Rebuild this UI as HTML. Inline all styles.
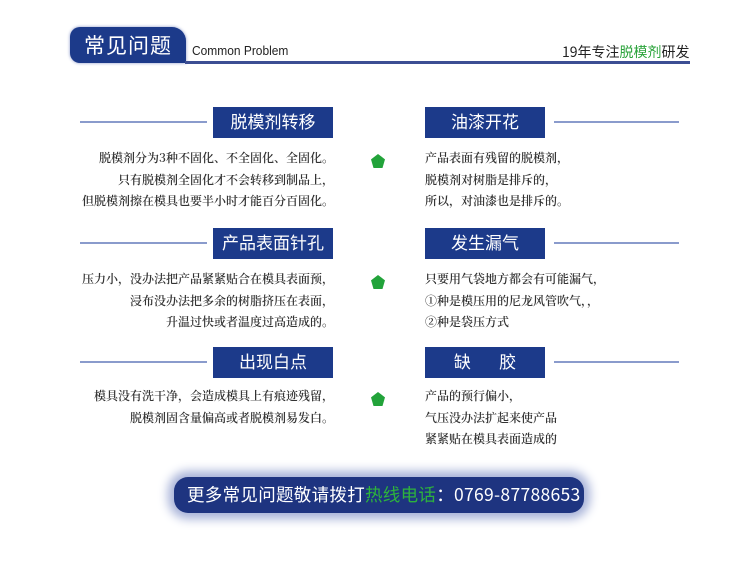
<!DOCTYPE html>
<html><head><meta charset="utf-8"><style>
*{margin:0;padding:0;box-sizing:border-box}
body{width:749px;height:567px;background:#fff;position:relative;overflow:hidden;font-family:"Liberation Sans","Noto Sans CJK SC",sans-serif}
.a{position:absolute}
.box{position:absolute;width:120px;height:31px;background:#1c3a8a;color:#fff;font-size:17px;text-align:center;line-height:31px}
.ln{position:absolute;height:2px;background:#8a9bcc}
.t{position:absolute;font-family:"Noto Serif CJK SC","Liberation Serif",serif;font-size:12px;color:#333;line-height:21.5px;font-weight:600;white-space:nowrap}
.tl{text-align:right;right:415px}
.tr{left:425px}
.pent{position:absolute;width:14px;height:14px;background:#22a33a;clip-path:polygon(50% 0,100% 38%,82% 100%,18% 100%,0 38%)}
</style></head><body>
<div class="a" style="left:70px;top:27px;width:116px;height:36px;background:#1c3a8a;border-radius:10px 14px 0 10px;box-shadow:0 0 3px #8896c8"></div>
<div class="a" style="left:84px;top:30px;color:#fff;font-size:21px;line-height:30px;font-family:'Noto Sans CJK SC',sans-serif;letter-spacing:1px">常见问题</div>
<div class="a" style="left:192px;top:43px;font-size:13px;color:#222;transform:scaleX(0.92);transform-origin:left">Common Problem</div>
<div class="a" style="left:185px;top:61px;width:505px;height:3px;background:#3c4e93"></div>
<div class="a" style="left:562px;top:43px;font-size:14px;color:#222;font-family:'Noto Sans CJK SC',sans-serif;line-height:18px">19年专注<span style="color:#2aa33a">脱模剂</span>研发</div>

<div class="ln" style="left:80px;top:121px;width:127px"></div>
<div class="box" style="left:213px;top:107px">脱模剂转移</div>
<div class="box" style="left:425px;top:107px">油漆开花</div>
<div class="ln" style="left:554px;top:121px;width:125px"></div>
<div class="t tl" style="top:147px">脱模剂分为3种不固化、不全固化、全固化。<br>只有脱模剂全固化才不会转移到制品上，<br>但脱模剂擦在模具也要半小时才能百分百固化。</div>
<div class="t tr" style="top:147px">产品表面有残留的脱模剂，<br>脱模剂对树脂是排斥的，<br>所以，对油漆也是排斥的。</div>
<div class="pent" style="left:371px;top:154px"></div>

<div class="ln" style="left:80px;top:242px;width:127px"></div>
<div class="box" style="left:213px;top:228px">产品表面针孔</div>
<div class="box" style="left:425px;top:228px">发生漏气</div>
<div class="ln" style="left:554px;top:242px;width:125px"></div>
<div class="t tl" style="top:268px">压力小，没办法把产品紧紧贴合在模具表面预，<br>浸布没办法把多余的树脂挤压在表面，<br>升温过快或者温度过高造成的。</div>
<div class="t tr" style="top:268px">只要用气袋地方都会有可能漏气，<br>①种是模压用的尼龙风管吹气，，<br>②种是袋压方式</div>
<div class="pent" style="left:371px;top:275px"></div>

<div class="ln" style="left:80px;top:361px;width:127px"></div>
<div class="box" style="left:213px;top:347px">出现白点</div>
<div class="box" style="left:425px;top:347px">缺&nbsp;&nbsp;&nbsp;&nbsp;&nbsp;&nbsp;胶</div>
<div class="ln" style="left:554px;top:361px;width:125px"></div>
<div class="t tl" style="top:385px">模具没有洗干净，会造成模具上有痕迹残留，<br>脱模剂固含量偏高或者脱模剂易发白。</div>
<div class="t tr" style="top:385px">产品的预行偏小，<br>气压没办法扩起来使产品<br>紧紧贴在模具表面造成的</div>
<div class="pent" style="left:371px;top:392px"></div>

<div class="a" style="left:174px;top:477px;width:410px;height:36px;background:#1e3480;border-radius:14px;box-shadow:0 0 10px 6px #a7b2d8"></div>
<div class="a" style="left:187px;top:484px;color:#fff;font-size:17.5px;line-height:22px;font-family:'Noto Sans CJK SC',sans-serif;letter-spacing:0.3px;white-space:nowrap">更多常见问题敬请拨打<span style="color:#2db33c">热线电话</span>：0769-87788653</div>
</body></html>
